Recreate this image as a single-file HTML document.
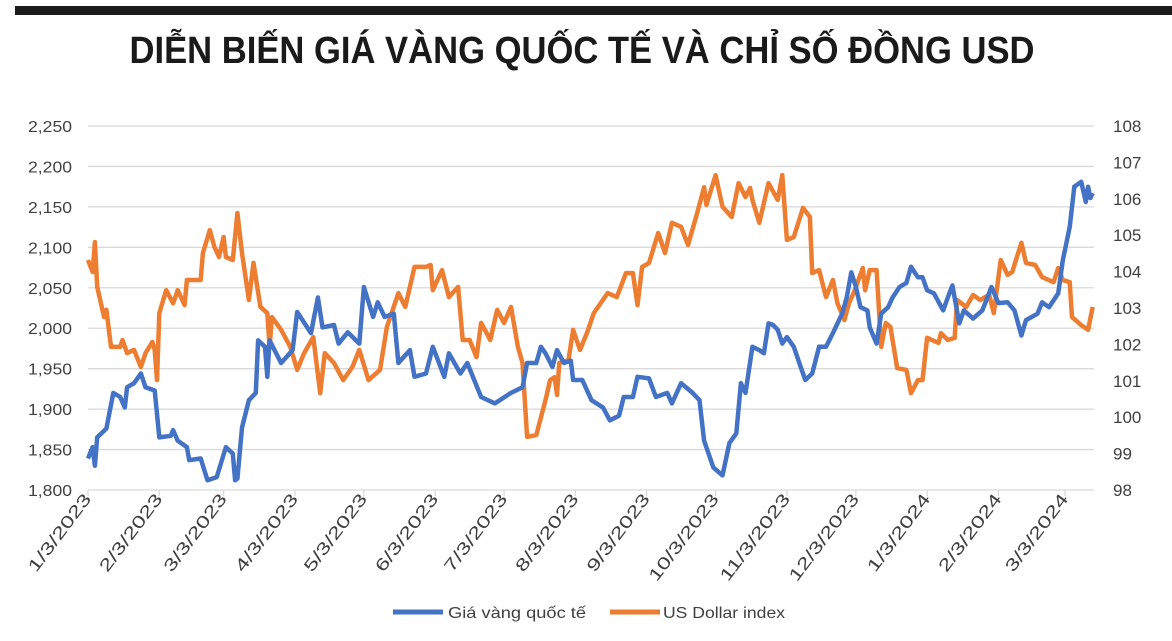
<!DOCTYPE html>
<html><head><meta charset="utf-8"><style>
html,body{margin:0;padding:0;background:#fff;}
svg{display:block;font-family:"Liberation Sans","DejaVu Sans",sans-serif;}
</style></head><body>
<svg id="chart" width="1172" height="641" viewBox="0 0 1172 641" xmlns="http://www.w3.org/2000/svg">
<rect x="15" y="6" width="1157" height="9" fill="#1a1a1a"/>
<text x="582" y="63" text-anchor="middle" font-size="38" font-weight="bold" fill="#1a1a1a" textLength="905" lengthAdjust="spacingAndGlyphs">DIỄN BIẾN GIÁ VÀNG QUỐC TẾ VÀ CHỈ SỐ ĐỒNG USD</text>
<g id="grid"></g>
<g id="yl"></g>
<g id="yr"></g>
<g id="xa"></g>
<g id="series"></g>
<g>
<line x1="393" y1="612" x2="443" y2="612" stroke="#4472C4" stroke-width="5"/>
<text x="448" y="618" font-size="16" fill="#404040" textLength="138" lengthAdjust="spacingAndGlyphs">Giá vàng quốc tế</text>
<line x1="610" y1="612" x2="660" y2="612" stroke="#ED7D31" stroke-width="5"/>
<text x="663" y="618" font-size="16" fill="#404040" textLength="122" lengthAdjust="spacingAndGlyphs">US Dollar index</text>
</g>
</svg>
<script>
const leftTicks=[1800,1850,1900,1950,2000,2050,2100,2150,2200,2250];
const rightTicks=[98,99,100,101,102,103,104,105,106,107,108];
const dateLabels=["1/3/2023","2/3/2023","3/3/2023","4/3/2023","5/3/2023","6/3/2023","7/3/2023","8/3/2023","9/3/2023","10/3/2023","11/3/2023","12/3/2023","1/3/2024","2/3/2024","3/3/2024"];
const dateDays=[0,31,59,90,120,151,181,212,243,273,304,334,365,396,425];
const goldDays=[0,2,3,4,8,11,14,16,17,20,23,25,29,31,36,37,39,43,44,49,52,56,60,63,64,65,67,70,73,74,77,78,79,84,89,91,97,100,102,107,109,113,118,120,124,126,129,133,135,140,142,147,150,155,157,162,165,171,177,184,189,191,195,197,199,202,204,207,210,211,215,219,224,227,231,233,237,239,244,247,252,254,258,263,266,268,272,276,279,282,284,286,289,292,294,296,298,300,302,304,307,310,312,315,318,321,324,326,328,330,332,334,336,339,340,343,345,348,350,353,356,358,361,363,365,368,372,374,376,379,381,385,389,393,396,400,403,406,408,413,415,418,422,424,427,429,432,434,435,436,437];
const goldValues=[1839,1853,1830,1865,1876,1920,1915,1902,1927,1932,1944,1927,1923,1865,1867,1874,1861,1853,1837,1839,1812,1816,1853,1845,1812,1814,1877,1911,1920,1985,1977,1940,1985,1957,1973,2020,1994,2038,2001,2004,1981,1995,1981,2051,2014,2032,2014,2018,1957,1973,1940,1944,1977,1940,1969,1944,1957,1915,1907,1920,1927,1957,1957,1977,1969,1952,1973,1957,1960,1936,1936,1911,1902,1886,1892,1915,1915,1940,1938,1915,1920,1907,1932,1920,1911,1861,1828,1818,1858,1870,1932,1920,1977,1973,1969,2006,2004,1998,1981,1989,1977,1952,1936,1944,1977,1977,1994,2006,2018,2038,2069,2051,2026,2022,2001,1981,2018,2026,2038,2051,2056,2076,2063,2063,2047,2043,2022,2038,2053,2006,2022,2012,2022,2051,2031,2032,2022,1991,2010,2018,2032,2026,2043,2084,2125,2175,2181,2156,2175,2161,2167];
const usdDays=[0,2,3,4,7,8,10,14,15,17,20,23,25,28,29,30,31,34,37,39,42,43,49,50,53,55,57,59,60,63,65,67,70,72,75,78,79,80,84,88,91,94,98,101,103,107,111,115,118,122,127,130,135,138,142,147,149,150,154,157,161,163,166,169,171,175,178,181,184,187,189,191,195,199,201,203,204,205,209,211,214,217,220,226,230,234,237,239,241,244,248,251,254,258,261,265,268,269,273,276,280,283,286,288,289,292,296,300,302,304,307,311,314,315,318,321,324,326,329,331,333,337,338,340,343,345,347,349,352,356,358,361,363,365,370,371,374,377,378,382,385,388,392,394,397,400,402,406,408,412,415,420,422,424,427,428,432,435,437];
const usdValues=[104.32,103.99,104.81,103.58,102.75,102.95,101.93,101.93,102.12,101.76,101.85,101.38,101.76,102.07,101.85,101.02,102.86,103.49,103.13,103.49,103.08,103.77,103.77,104.51,105.14,104.68,104.40,104.95,104.40,104.32,105.61,104.51,103.22,104.24,103.03,102.86,101.93,102.75,102.40,101.93,101.30,101.76,102.20,100.66,101.76,101.49,101.02,101.38,101.85,101.02,101.30,102.48,103.41,103.03,104.13,104.13,104.18,103.49,104.04,103.30,103.58,102.12,102.12,101.65,102.59,102.12,102.95,102.59,103.03,101.93,101.49,99.46,99.51,100.47,101.02,101.10,100.61,101.49,101.57,102.40,101.85,102.31,102.86,103.41,103.30,103.96,103.96,103.08,104.13,104.24,105.06,104.51,105.34,105.23,104.73,105.61,106.32,105.83,106.65,105.78,105.50,106.43,106.05,106.30,105.97,105.34,106.43,105.97,106.65,104.87,104.95,105.75,105.50,103.96,104.04,103.30,103.77,103.13,102.67,103.13,103.41,104.10,103.49,104.04,104.04,101.93,102.59,102.48,101.35,101.30,100.66,101.02,101.02,102.18,102.04,102.31,102.12,102.18,103.22,103.03,103.36,103.22,103.36,102.86,104.32,103.91,103.99,104.79,104.24,104.18,103.85,103.71,104.10,103.77,103.71,102.75,102.53,102.40,103.03];

const NS="http://www.w3.org/2000/svg";
const X0=88,PXD=2.299,TOP=126,BOT=490,RIGHT=1094;
function xs(d){return X0+d*PXD;}
function yl(v){return TOP+(2250-v)/450*(BOT-TOP);}
function yr(v){return TOP+(108-v)/10*(BOT-TOP);}
function mk(tag,attrs,parent){const e=document.createElementNS(NS,tag);for(const k in attrs)e.setAttribute(k,attrs[k]);parent.appendChild(e);return e;}
const grid=document.getElementById('grid'),gl=document.getElementById('yl'),gr=document.getElementById('yr'),gx=document.getElementById('xa'),gs=document.getElementById('series');
leftTicks.forEach(v=>{
  const l=mk('line',{x1:X0,x2:RIGHT,y1:yl(v),y2:yl(v),stroke:'#d9d9d9','stroke-width':1.3},grid);
  
  
  const t=mk('text',{x:72,y:yl(v)+6,'text-anchor':'end','font-size':16,fill:'#404040','textLength':44,'lengthAdjust':'spacingAndGlyphs'},gl);
  t.textContent=v.toLocaleString('en-US');
  
  
});
rightTicks.forEach(v=>{
  const t=mk('text',{x:1113,y:yr(v)+6,'font-size':17,fill:'#404040'},gr);
  t.textContent=v;
  
  
});
dateLabels.forEach((s,i)=>{
  const x=xs(dateDays[i]);
  const tk=mk('line',{x1:x,x2:x,y1:BOT,y2:BOT+6,stroke:'#d9d9d9','stroke-width':1.3},gx);
  
  
  const t=mk('text',{x:x+4,y:BOT+9,'text-anchor':'end','font-size':17,fill:'#404040',transform:`rotate(-53 ${x+4} ${BOT+9})`,'textLength':s.length*11.6,'lengthAdjust':'spacingAndGlyphs'},gx);
  t.textContent=s;
  
  
});
function path(days,vals,yf){return days.map((d,i)=>(i?'L':'M')+xs(d).toFixed(1)+' '+yf(vals[i]).toFixed(1)).join(' ');}
const pu=mk('path',{d:path(usdDays,usdValues,yr),fill:'none',stroke:'#ED7D31','stroke-width':4.5,'stroke-linejoin':'round'},gs);


const pg=mk('path',{d:path(goldDays,goldValues,yl),fill:'none',stroke:'#4472C4','stroke-width':4.5,'stroke-linejoin':'round'},gs);


</script>
</body></html>
